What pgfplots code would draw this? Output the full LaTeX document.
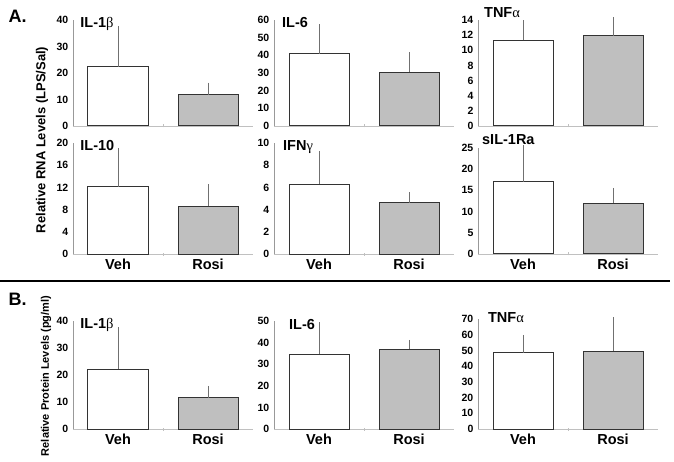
\documentclass[border=0pt]{standalone}
\usepackage{fontspec}
\setmainfont{Liberation Sans}
\newfontfamily\greek{Liberation Serif}
\usepackage{pgfplots}
\pgfplotsset{compat=1.18}
\definecolor{rosi}{HTML}{BFBFBF}
\definecolor{bard}{HTML}{333333}
\definecolor{errc}{HTML}{707070}
\definecolor{xaxis}{HTML}{C0C0C0}
\definecolor{yaxis}{HTML}{999999}
\tikzset{ttl/.style={anchor=west, inner sep=0pt, font=\bfseries\fontsize{14.5}{15}\selectfont}}
\pgfplotsset{
 panel/.style={
   scale only axis, width=180pt, xmin=0, xmax=4, ymin=0, clip=false,
   axis x line=bottom, axis y line=left,
   x axis line style={-, color=xaxis, line width=0.8pt},
   y axis line style={-, color=yaxis, line width=0.8pt},
   xtick={1,3}, xticklabels={,}, xtick style={draw=none},
   extra x ticks={2}, extra x tick labels={},
   extra x tick style={xtick style={draw=xaxis}, major tick length=3pt},
   ytick style={draw=none},
   yticklabel style={font=\bfseries\fontsize{10.5}{11}\selectfont, xshift=1pt},
   /pgf/number format/assume math mode=true,
   anchor=south west,
 },
 cat/.style={xticklabels={Veh,Rosi}, xticklabel style={font=\bfseries\fontsize{14.5}{15}\selectfont, yshift=1pt}},
 veh/.style={ybar, bar width=60pt, bar shift=0pt, fill=white, draw=bard, line width=1pt,
   error bars/y dir=plus, error bars/y explicit,
   error bars/error bar style={color=errc, line width=0.9pt},
   error bars/error mark options={color=errc, mark size=2pt, line width=1pt}},
 ros/.style={veh, fill=rosi},
}
\begin{document}
\begin{tikzpicture}[x=1pt,y=1pt]
\useasboundingbox (0,0) rectangle (674,461);
% Row 1
\begin{axis}[panel, at={(73pt,335pt)}, height=106pt, ymax=40, ytick distance=10]
\addplot[veh] coordinates {(1,22.3) +- (0,14.7)};
\addplot[ros] coordinates {(3,11.7) +- (0,3.9)};
\node[ttl] at (axis description cs:0.04,0.96) {IL-1{\greek\mdseries β}};
\end{axis}
\begin{axis}[panel, at={(274pt,335pt)}, height=106pt, ymax=60, ytick distance=10]
\addplot[veh] coordinates {(1,41) +- (0,15.5)};
\addplot[ros] coordinates {(3,30.5) +- (0,10)};
\node[ttl] at (axis description cs:0.044,0.98) {IL-6};
\end{axis}
\begin{axis}[panel, at={(478pt,335pt)}, height=106pt, ymax=14, ytick distance=2]
\addplot[veh] coordinates {(1,11.3) +- (0,2.4)};
\addplot[ros] coordinates {(3,11.9) +- (0,2.2)};
\node[ttl] at (axis description cs:0.033,1.066) {TNF{\greek\mdseries α}};
\end{axis}
% Row 2
\begin{axis}[panel, cat, at={(73pt,207pt)}, height=111pt, ymax=20, ytick distance=4]
\addplot[veh] coordinates {(1,12.1) +- (0,6.6)};
\addplot[ros] coordinates {(3,8.6) +- (0,3.6)};
\node[ttl] at (axis description cs:0.04,0.973) {IL-10};
\end{axis}
\begin{axis}[panel, cat, at={(274pt,207pt)}, height=111pt, ymax=10, ytick distance=2]
\addplot[veh] coordinates {(1,6.3) +- (0,2.8)};
\addplot[ros] coordinates {(3,4.6) +- (0,0.8)};
\node[ttl] at (axis description cs:0.05,0.964) {IFN{\greek\mdseries γ}};
\end{axis}
\begin{axis}[panel, cat, at={(478pt,207pt)}, height=106pt, ymax=25, ytick distance=5]
\addplot[veh] coordinates {(1,17.0) +- (0,8.2)};
\addplot[ros] coordinates {(3,12.0) +- (0,3.1)};
\node[ttl] at (axis description cs:0.022,1.075) {sIL-1Ra};
\end{axis}
% Row 3
\begin{axis}[panel, cat, at={(73pt,32pt)}, height=108pt, ymax=40, ytick distance=10]
\addplot[veh] coordinates {(1,22.2) +- (0,14.8)};
\addplot[ros] coordinates {(3,11.5) +- (0,3.7)};
\node[ttl] at (axis description cs:0.04,0.963) {IL-1{\greek\mdseries β}};
\end{axis}
\begin{axis}[panel, cat, at={(274pt,32pt)}, height=108pt, ymax=50, ytick distance=10]
\addplot[veh] coordinates {(1,34.7) +- (0,13.9)};
\addplot[ros] coordinates {(3,37) +- (0,3.3)};
\node[ttl] at (axis description cs:0.083,0.963) {IL-6};
\end{axis}
\begin{axis}[panel, cat, at={(478pt,32pt)}, height=110pt, ymax=70, ytick distance=10]
\addplot[veh] coordinates {(1,48.4) +- (0,10.2)};
\addplot[ros] coordinates {(3,49.6) +- (0,20.4)};
\node[ttl] at (axis description cs:0.055,1.01) {TNF{\greek\mdseries α}};
\end{axis}
% decorations
\draw[line width=2pt] (0,180) -- (670,180);
\node[anchor=west, font=\bfseries\fontsize{18}{18}\selectfont] at (5,445) {A.};
\node[anchor=west, font=\bfseries\fontsize{18}{18}\selectfont] at (5,162) {B.};
\node[rotate=90, font=\bfseries\fontsize{13}{13}\selectfont] at (42,321) {Relative RNA Levels (LPS/Sal)};
\node[rotate=90, font=\bfseries\fontsize{11}{11}\selectfont] at (46,85) {Relative Protein Levels (pg/ml)};
\end{tikzpicture}
\end{document}
